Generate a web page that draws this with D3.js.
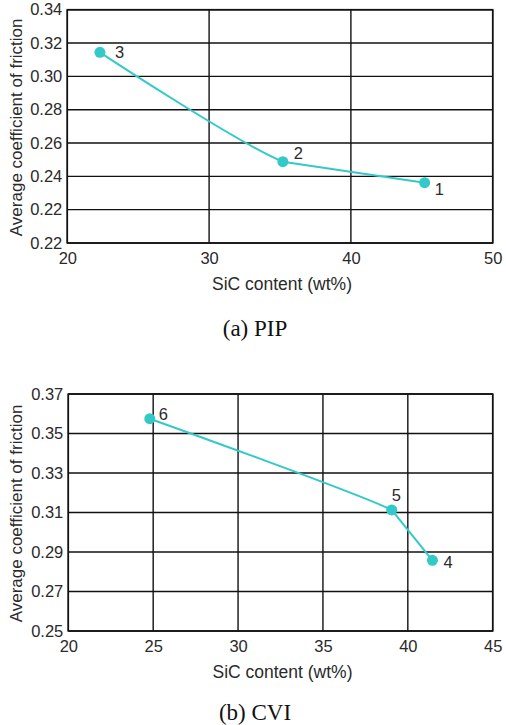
<!DOCTYPE html>
<html>
<head>
<meta charset="utf-8">
<script src="https://cdn.jsdelivr.net/npm/d3@7"></script>
<style>
  html, body { margin: 0; padding: 0; background: #fff; }
  svg { display: block; }
  text { font-family: "Liberation Sans", Arial, sans-serif; fill: #2a2a2a; }
  .caption { font-family: "Liberation Serif", "Times New Roman", serif; fill: #111; }
</style>
</head>
<body>
<svg id="fig" width="506" height="725"></svg>
<script>
// (a) PIP samples: SiC content vs. average friction coefficient
const pipSiC = [45.2, 35.2, 22.3];
const pipCOF = [0.2362, 0.2488, 0.3144];
const pipLabels = ["1", "2", "3"];
const pipXTicks = [20, 30, 40, 50];
const pipYTicks = [0.20, 0.22, 0.24, 0.26, 0.28, 0.30, 0.32, 0.34];
const pipYTickLabels = ["0.22", "0.22", "0.24", "0.26", "0.28", "0.30", "0.32", "0.34"];

// (b) CVI samples
const cviSiC = [41.45, 39.05, 24.8];
const cviCOF = [0.2858, 0.3113, 0.3575];
const cviLabels = ["4", "5", "6"];
const cviXTicks = [20, 25, 30, 35, 40, 45];
const cviYTicks = [0.25, 0.27, 0.29, 0.31, 0.33, 0.35, 0.37];
const cviYTickLabels = ["0.25", "0.27", "0.29", "0.31", "0.33", "0.35", "0.37"];

const LINE = "#33c9c9";
const svg = d3.select("#fig");
const defs = svg.append("defs");

function panel(cfg) {
  const g = svg.append("g");
  const x = d3.scaleLinear().domain(cfg.xDomain).range([cfg.left, cfg.right]);
  const y = d3.scaleLinear().domain(cfg.yDomain).range([cfg.bottom, cfg.top]);

  // grid
  g.append("g").selectAll("line").data(cfg.xTicks).join("line")
    .attr("x1", d => x(d)).attr("x2", d => x(d))
    .attr("y1", cfg.top).attr("y2", cfg.bottom)
    .attr("stroke", "#111").attr("stroke-width", 1.4);
  g.append("g").selectAll("line").data(cfg.yTicks).join("line")
    .attr("x1", cfg.left).attr("x2", cfg.right)
    .attr("y1", d => y(d)).attr("y2", d => y(d))
    .attr("stroke", "#111").attr("stroke-width", 1.4);
  g.append("rect")
    .attr("x", cfg.left).attr("y", cfg.top)
    .attr("width", cfg.right - cfg.left).attr("height", cfg.bottom - cfg.top)
    .attr("fill", "none").attr("stroke", "#111").attr("stroke-width", 1.6);

  // axes (labels only, lines drawn by the grid)
  const xAxis = d3.axisBottom(x).tickValues(cfg.xTicks).tickSize(0).tickPadding(9)
    .tickFormat(d3.format("d"));
  const gx = g.append("g").attr("transform", `translate(0,${cfg.bottom})`).call(xAxis);
  gx.select(".domain").remove();
  gx.selectAll("text").attr("font-size", 16.5).attr("fill", "#2a2a2a")
    .attr("font-family", "Liberation Sans, Arial, sans-serif");

  const yAxis = d3.axisLeft(y).tickValues(cfg.yTicks).tickSize(0).tickPadding(5)
    .tickFormat((d, i) => cfg.yTickLabels[i]);
  const gy = g.append("g").attr("transform", `translate(${cfg.left},0)`).call(yAxis);
  gy.select(".domain").remove();
  gy.selectAll("text").attr("font-size", 16.5).attr("fill", "#2a2a2a")
    .attr("font-family", "Liberation Sans, Arial, sans-serif");

  // axis titles
  g.append("text")
    .attr("x", (cfg.left + cfg.right) / 2 + 2).attr("y", cfg.bottom + 47)
    .attr("text-anchor", "middle").attr("font-size", 17.5).attr("fill", "#444")
    .text("SiC content (wt%)");
  g.append("text")
    .attr("transform", `translate(22,${(cfg.top + cfg.bottom) / 2 + 1}) rotate(-90)`)
    .attr("text-anchor", "middle").attr("font-size", 17).attr("fill", "#444")
    .text("Average coefficient of friction");

  // series: smooth spline on the long span, straight segment on the short one
  const pts = cfg.xs.map((v, i) => ({ x: v, y: cfg.ys[i], label: cfg.labels[i], off: cfg.offsets[i] }))
    .sort((a, b) => a.x - b.x);
  const clipId = "clip-" + cfg.id;
  defs.append("clipPath").attr("id", clipId).append("rect")
    .attr("x", cfg.left).attr("y", cfg.top)
    .attr("width", x(pts[1].x) - cfg.left).attr("height", cfg.bottom - cfg.top);
  const smooth = d3.line().x(d => x(d.x)).y(d => y(d.y)).curve(d3.curveCardinal.tension(cfg.tension));
  g.append("path").datum(pts).attr("d", smooth).attr("clip-path", `url(#${clipId})`)
    .attr("fill", "none").attr("stroke", LINE).attr("stroke-width", 2);
  const straight = d3.line().x(d => x(d.x)).y(d => y(d.y));
  g.append("path").datum(pts.slice(1)).attr("d", straight)
    .attr("fill", "none").attr("stroke", LINE).attr("stroke-width", 2);

  g.selectAll("circle").data(pts).join("circle")
    .attr("cx", d => x(d.x)).attr("cy", d => y(d.y)).attr("r", 5.5).attr("fill", LINE);
  g.selectAll("text.pt").data(pts).join("text").attr("class", "pt")
    .attr("x", d => x(d.x) + d.off[0]).attr("y", d => y(d.y) + d.off[1])
    .attr("font-size", 16.5).attr("fill", "#333").attr("dominant-baseline", "central")
    .text(d => d.label);

  // caption
  g.append("text").attr("class", "caption")
    .attr("x", 255).attr("y", cfg.captionY)
    .attr("text-anchor", "middle").attr("dominant-baseline", "central")
    .attr("font-size", 23).text(cfg.caption);
}

panel({
  id: "pip",
  left: 67.3, right: 492.7, top: 9.7, bottom: 243,
  xDomain: [20, 50], yDomain: [0.20, 0.34],
  xTicks: pipXTicks, yTicks: pipYTicks, yTickLabels: pipYTickLabels,
  xs: pipSiC, ys: pipCOF, labels: pipLabels,
  offsets: [[10, 6], [11, -9], [15, 0]],
  tension: 0.2,
  caption: "(a) PIP", captionY: 328
});

panel({
  id: "cvi",
  left: 68.3, right: 492.7, top: 394, bottom: 631,
  xDomain: [20, 45], yDomain: [0.25, 0.37],
  xTicks: cviXTicks, yTicks: cviYTicks, yTickLabels: cviYTickLabels,
  xs: cviSiC, ys: cviCOF, labels: cviLabels,
  offsets: [[11, 2], [0, -15], [9, -5]],
  tension: 0.3,
  caption: "(b) CVI", captionY: 712
});
</script>
</body>
</html>
